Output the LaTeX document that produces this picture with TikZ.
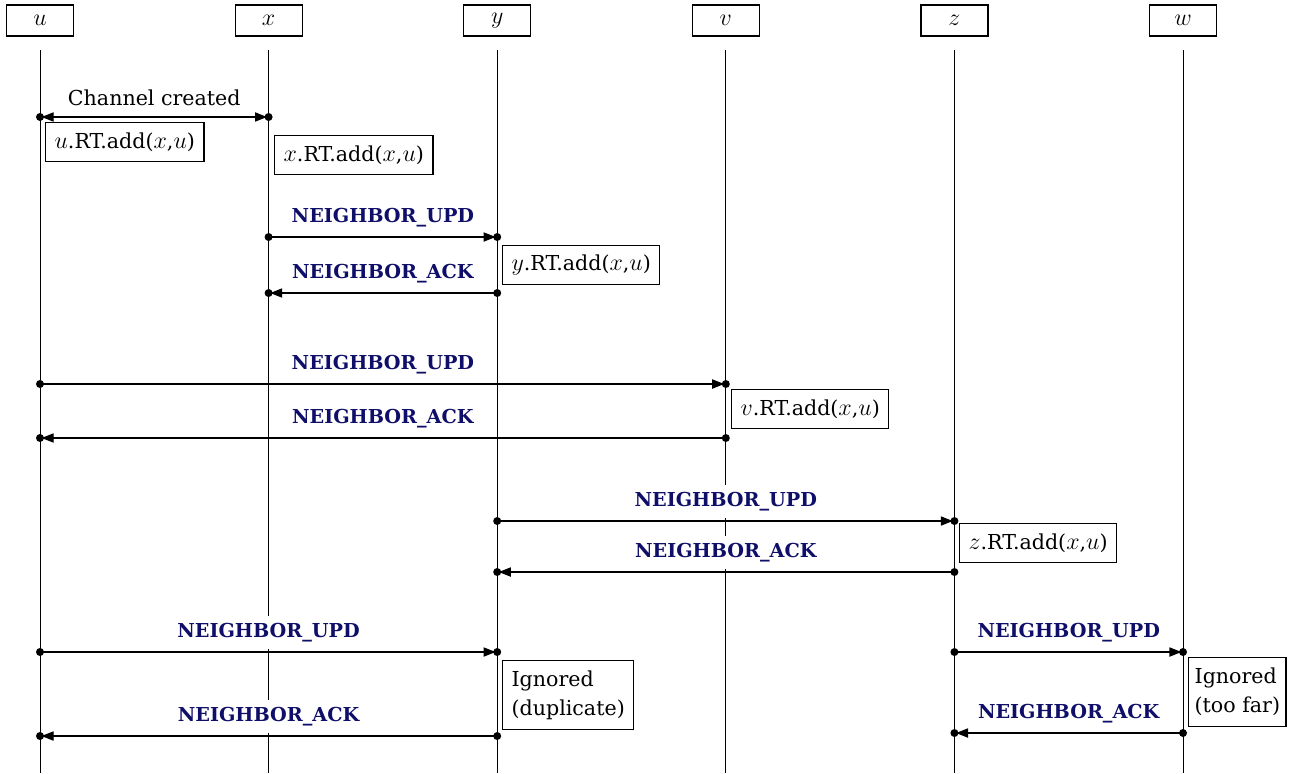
\documentclass[tikz,border=0pt]{standalone}
\usepackage{fontspec}
\setmainfont{DejaVu Serif}
\usetikzlibrary{arrows.meta}
\definecolor{msgblue}{RGB}{15,15,105}
\newcommand\mvar[1]{{\fontsize{12}{14}\selectfont$#1$}}
\begin{document}
\begin{tikzpicture}[x=0.5pt,y=-0.5pt,
  every node/.style={font=\fontsize{10.3}{14.5}\selectfont},
  head/.style={draw, line width=0.6pt, minimum width=33.5pt, minimum height=15.5pt, inner sep=0pt, font=\fontsize{12.2}{14}\selectfont},
  life/.style={line width=0.5pt},
  msg/.style={line width=0.6pt, -{Triangle[length=6pt,width=4.6pt]}, shorten >=0.8pt},
  both/.style={line width=0.6pt, {Triangle[length=6pt,width=4.6pt]}-{Triangle[length=6pt,width=4.6pt]}, shorten >=0.8pt, shorten <=0.8pt},
  lbl/.style={anchor=base, yshift=7.5pt, fill=white, inner sep=3.5pt, text=msgblue, font=\fontsize{9.6}{12}\selectfont\bfseries},
  plainlbl/.style={anchor=base, yshift=6pt, inner sep=2pt},
  note/.style={draw, line width=0.6pt, fill=white, anchor=north west, minimum height=19.5pt, inner xsep=4.5pt},
  ignote/.style={draw, line width=0.6pt, fill=white, anchor=north west, align=left, minimum height=34.5pt, inner xsep=4.5pt}]
\useasboundingbox (0,0) rectangle (1293,773);
% heads
\node[head] (hu) at (40,20.5) {$u$};
\node[head] (hx) at (268.6,20.5) {$x$};
\node[head] (hy) at (497.2,20.5) {$y$};
\node[head] (hv) at (725.8,20.5) {$v$};
\node[head] (hz) at (954.4,20.5) {$z$};
\node[head] (hw) at (1183,20.5) {$w$};
% lifelines
\foreach \n/\xx in {u/40,x/268.6,y/497.2,v/725.8,z/954.4,w/1183}{
  \coordinate (t\n) at (\xx,50);
  \coordinate (b\n) at (\xx,773);
  \draw[life] (t\n) -- (b\n);
}
% message end points
\coordinate (m1a) at (40,117);    \coordinate (m1b) at (268.6,117);
\coordinate (m2a) at (268.6,237); \coordinate (m2b) at (497.2,237);
\coordinate (m3a) at (497.2,293); \coordinate (m3b) at (268.6,293);
\coordinate (m4a) at (40,384);    \coordinate (m4b) at (725.8,384);
\coordinate (m5a) at (725.8,438); \coordinate (m5b) at (40,438);
\coordinate (m6a) at (497.2,521); \coordinate (m6b) at (954.4,521);
\coordinate (m7a) at (954.4,572); \coordinate (m7b) at (497.2,572);
\coordinate (m8a) at (40,652);    \coordinate (m8b) at (497.2,652);
\coordinate (m9a) at (497.2,736); \coordinate (m9b) at (40,736);
\coordinate (m10a) at (954.4,652); \coordinate (m10b) at (1183,652);
\coordinate (m11a) at (1183,733);  \coordinate (m11b) at (954.4,733);
% messages
\draw[both] (m1a) -- (m1b) node[midway, plainlbl] (l1) {Channel created};
\draw[msg] (m2a) -- (m2b) node[midway, lbl] (l2) {NEIGHBOR\_UPD};
\draw[msg] (m3a) -- (m3b) node[midway, lbl] (l3) {NEIGHBOR\_ACK};
\draw[msg] (m4a) -- (m4b) node[midway, lbl] (l4) {NEIGHBOR\_UPD};
\draw[msg] (m5a) -- (m5b) node[midway, lbl] (l5) {NEIGHBOR\_ACK};
\draw[msg] (m6a) -- (m6b) node[midway, lbl] (l6) {NEIGHBOR\_UPD};
\draw[msg] (m7a) -- (m7b) node[midway, lbl] (l7) {NEIGHBOR\_ACK};
\draw[msg] (m8a) -- (m8b) node[midway, lbl] (l8) {NEIGHBOR\_UPD};
\draw[msg] (m9a) -- (m9b) node[midway, lbl] (l9) {NEIGHBOR\_ACK};
\draw[msg] (m10a) -- (m10b) node[midway, lbl] (l10) {NEIGHBOR\_UPD};
\draw[msg] (m11a) -- (m11b) node[midway, lbl] (l11) {NEIGHBOR\_ACK};
% dots
\foreach \p in {m1a,m1b,m2a,m2b,m3a,m3b,m4a,m4b,m5a,m5b,m6a,m6b,m7a,m7b,m8a,m8b,m9a,m9b,m10a,m10b,m11a,m11b}{
  \fill (\p) circle (2pt);
}
% notes
\node[note] (nu) at (45,122) {\mvar{u}.RT.add(\mvar{x},\mvar{u})};
\node[note] (nx) at (274,135) {\mvar{x}.RT.add(\mvar{x},\mvar{u})};
\node[note] (ny) at (502,245) {\mvar{y}.RT.add(\mvar{x},\mvar{u})};
\node[note] (nv) at (731,389) {\mvar{v}.RT.add(\mvar{x},\mvar{u})};
\node[note] (nz) at (959,523) {\mvar{z}.RT.add(\mvar{x},\mvar{u})};
\node[ignote] (ndup) at (502,660) {Ignored\\(duplicate)};
\node[ignote, inner xsep=3pt] (nfar) at (1188,657) {Ignored\\(too far)};
\end{tikzpicture}
\end{document}
